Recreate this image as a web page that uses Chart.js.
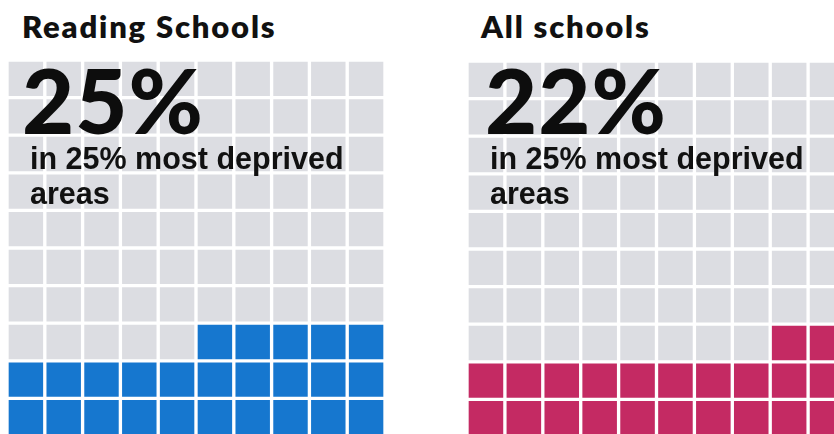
<!DOCTYPE html>
<html>
<head>
<meta charset="utf-8">
<script src="https://cdn.jsdelivr.net/npm/chart.js@4.4.1/dist/chart.umd.min.js"></script>
<style>
  body { margin: 0; width: 834px; height: 434px; overflow: hidden; background: #fff; position: relative; }
  canvas { position: absolute; }
  .title { position: absolute; font-family: Lato, sans-serif; font-weight: 800; font-size: 31px; line-height: 31px; letter-spacing: 1.8px; color: #111; white-space: nowrap; }
  .big { position: absolute; font-family: Lato, sans-serif; font-weight: 900; font-size: 90px; line-height: 90px; color: #0d0d0d; white-space: nowrap; letter-spacing: 1px; }
  .sub { position: absolute; font-family: "Liberation Sans", Arial, sans-serif; font-weight: bold; font-size: 30.5px; line-height: 35px; color: #111; white-space: nowrap; }
</style>
</head>
<body>
<canvas id="waffle0" width="378" height="376" style="left:7px;top:60px"></canvas>
<canvas id="waffle1" width="379" height="376" style="left:467px;top:61px"></canvas>
<div id="labels"></div>
<script>
const groups = ['Reading Schools', 'All schools'];
const shares = [25, 22]; // % of schools in the 25% most deprived areas
const fillColors = ['#1677cf', '#c42a63'];
const emptyColor = '#dcdde2';
const caption = 'in 25% most deprived areas';

const gridCols = 10;
const gridRows = 10;

// where each panel's text sits
const textPos = [
  { title: 22, big: 22, sub: 30 },
  { title: 481, big: 485, sub: 490 }
];

// one stacked dataset per row, filled bottom row first, right to left
const waffleDatasets = (share, color) => {
  let datasets = [];
  for (let r = 0; r < gridRows; r++) {
    let colors = [];
    for (let c = 0; c < gridCols; c++) {
      let idx = r * gridCols + (gridCols - 1 - c);
      colors.push(idx < share ? color : emptyColor);
    }
    datasets.push({
      data: new Array(gridCols).fill(1),
      backgroundColor: colors,
      borderColor: '#fff',
      borderWidth: 2,
      borderSkipped: false,
      borderRadius: 0,
      barPercentage: 1,
      categoryPercentage: 1,
      stack: 'cells'
    });
  }
  return datasets;
};

const makeWaffle = (i) => {
  new Chart('waffle' + i, {
    type: 'bar',
    data: {
      labels: Array.from({ length: gridCols }, (_, k) => '' + (k + 1)),
      datasets: waffleDatasets(shares[i], fillColors[i])
    },
    options: {
      responsive: false,
      animation: false,
      layout: { padding: 0 },
      plugins: { legend: { display: false }, tooltip: { enabled: false } },
      scales: {
        x: { stacked: true, display: false },
        y: { stacked: true, display: false, min: 0, max: gridRows }
      }
    }
  });
};

const addText = (i) => {
  const holder = document.getElementById('labels');
  const p = textPos[i];
  const parts = caption.split(' ');
  holder.insertAdjacentHTML('beforeend',
    `<div class="title" style="left:${p.title}px;top:11px">${groups[i]}</div>` +
    `<div class="big" style="left:${p.big}px;top:54px">${shares[i]}%</div>` +
    `<div class="sub" style="left:${p.sub}px;top:141px">${parts.slice(0, 4).join(' ')}<br>${parts.slice(4).join(' ')}</div>`);
};

for (let i = 0; i < groups.length; i++) {
  makeWaffle(i);
  addText(i);
}
</script>
</body>
</html>
